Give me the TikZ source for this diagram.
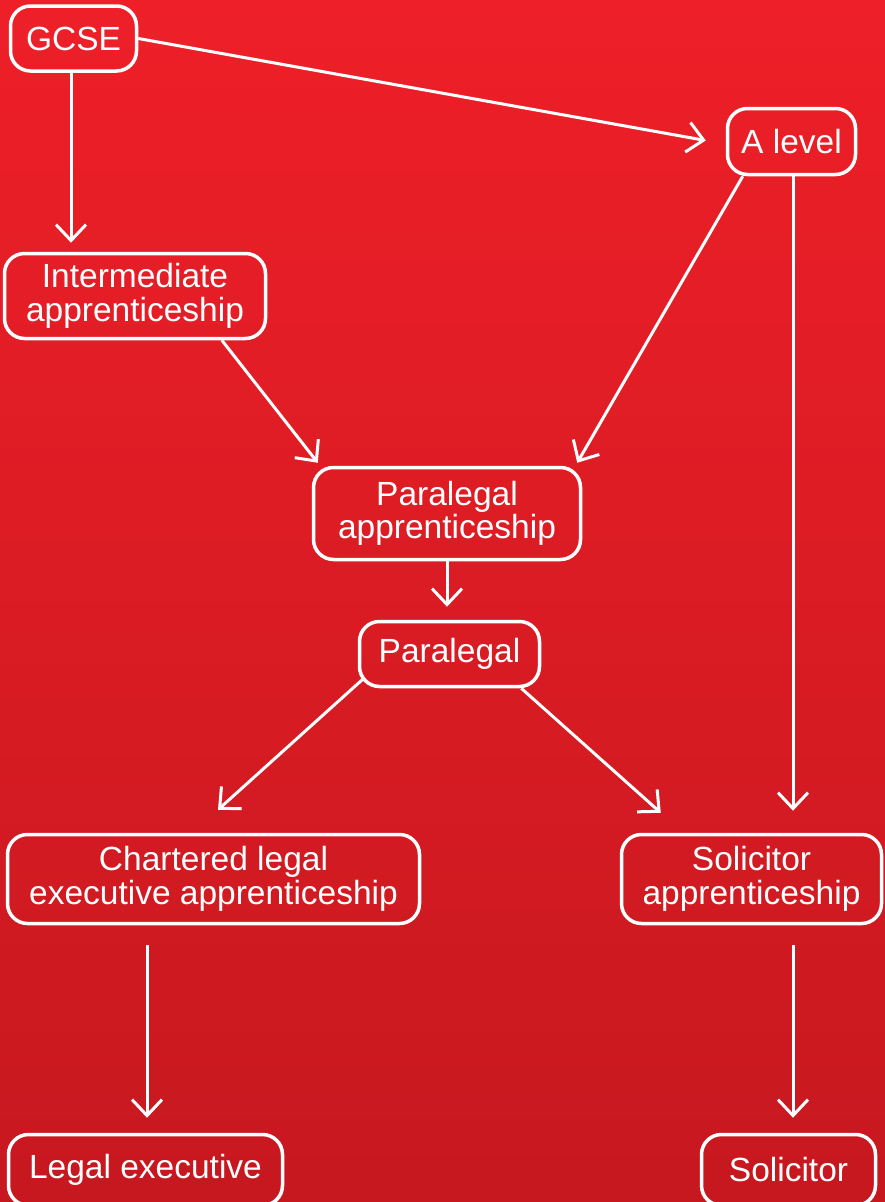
\documentclass[tikz,border=0pt]{standalone}
\usepackage{fontspec}
\setmainfont{Liberation Sans}
\usetikzlibrary{arrows.meta,calc}
\definecolor{bgtop}{HTML}{EE1F28}
\definecolor{bgbot}{HTML}{C7181F}
\begin{document}
\begin{tikzpicture}[x=1pt,y=-1pt,
  box/.style={draw=white,line width=3.5pt,rounded corners=20pt,text=white,align=center,
    font=\fontsize{33.5}{33.5}\selectfont,inner sep=0pt},
  arr/.style={draw=white,line width=3pt,-{Straight Barb[length=16pt,width=30pt]}}]
\useasboundingbox (0,0) rectangle (885,1202);
\shade[top color=bgtop,bottom color=bgbot] (0,0) rectangle (885,1202);
\node[box,minimum width=126pt,minimum height=65pt] (gcse) at (73.5,38.5) {GCSE};
\node[box,minimum width=128pt,minimum height=66pt] (alevel) at (791.5,141.5) {A level};
\node[box,minimum width=261pt,minimum height=85pt] (inter) at (135,296) {Intermediate\\apprenticeship};
\node[box,minimum width=267pt,minimum height=92pt] (paraapp) at (447,513.5) {Paralegal\\apprenticeship};
\node[box,minimum width=180pt,minimum height=65pt] (para) at (449.5,654) {Paralegal};
\node[box,minimum width=412pt,minimum height=89pt] (chart) at (213.5,879) {Chartered legal\\executive apprenticeship};
\node[box,minimum width=260pt,minimum height=89pt] (solapp) at (751.5,879) {Solicitor\\apprenticeship};
\node[box,minimum width=274pt,minimum height=71pt] (legal) at (145.5,1170) {Legal executive};
\node[box,minimum width=174pt,minimum height=71pt] (sol) at (788.5,1170) {Solicitor};
% connectors
\draw[arr] (gcse.south -| 71,0) -- ($(inter.north -| 71,0)+(0,-9)$);
\draw[arr] (gcse.east) -- ($(alevel.west)+(-20,-1)$);
\draw[arr] (inter.-27) -- ($(paraapp.north west)+(6,-3)$);
\draw[arr] ($(alevel.south west)+(17,0)$) -- ($(paraapp.north east)+(-5,-3)$);
\draw[arr] (paraapp.south) -- ($(para.north)+(-2.5,-13)$);
\draw[arr] ($(para.south west)+(5,-9)$) -- ($(chart.north)+(4.5,-23)$);
\draw[arr] ($(para.south east)+(-20,0)$) -- ($(solapp.north west)+(41,-20)$);
\draw[arr] ($(alevel.south)+(1.5,0)$) -- ($(solapp.north)+(41.5,-22)$);
\draw[arr] ($(chart.south -| 147,0)+(0,20)$) -- ($(legal.north -| 147,0)+(0,-15)$);
\draw[arr] ($(solapp.south -| 793,0)+(0,20)$) -- ($(sol.north -| 793,0)+(0,-15)$);
\end{tikzpicture}
\end{document}
